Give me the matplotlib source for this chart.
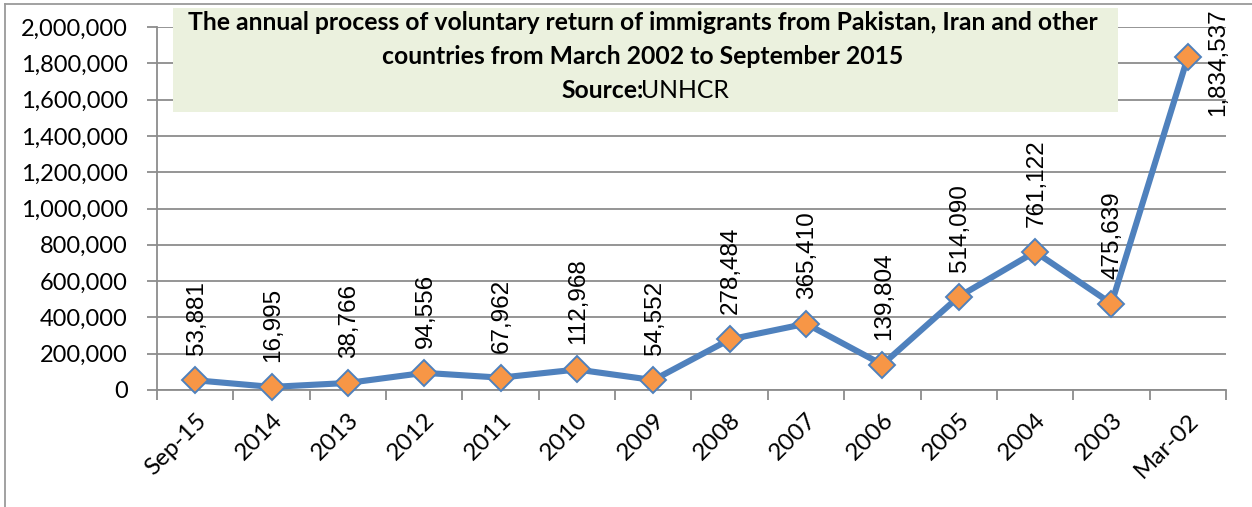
import matplotlib
matplotlib.use("Agg")
import matplotlib.pyplot as plt
from matplotlib.lines import Line2D
from matplotlib.patches import Rectangle
from matplotlib.ticker import FuncFormatter, MultipleLocator

# data (UNHCR voluntary return)
periods = ["Sep-15", "2014", "2013", "2012", "2011", "2010", "2009",
           "2008", "2007", "2006", "2005", "2004", "2003", "Mar-02"]
returnees = [53881, 16995, 38766, 94556, 67962, 112968, 54552,
             278484, 365410, 139804, 514090, 761122, 475639, 1834537]
y_ticks = list(range(0, 2000001, 200000))

title_lines = ["The annual process of voluntary return of immigrants from Pakistan, Iran and other",
               "countries from March 2002 to September 2015"]
source_label = "Source:"
source_name = "UNHCR"

W, H = 1252, 507
fig = plt.figure(figsize=(W / 100, H / 100), dpi=100)
ax = fig.add_axes([157 / W, 1 - 390 / H, (1226 - 157) / W, (390 - 27) / H])

line_blue = "#4F81BD"
grid_grey = "#8C8C8C"
x = list(range(len(periods)))

ax.plot(x, returnees, color=line_blue, lw=4.4, marker="D", ms=13,
        mfc="#F79646", mec=line_blue, mew=1.4, zorder=3, clip_on=False)

ax.set_xlim(-0.5, len(periods) - 0.5)
ax.set_ylim(0, 2000000)
ax.set_yticks(y_ticks)
ax.yaxis.set_major_formatter(FuncFormatter(lambda v, p: f"{int(v):,}"))
ax.set_xticks(x)
ax.set_xticklabels(periods, rotation=45, ha="right", va="top", rotation_mode="anchor")
ax.xaxis.set_minor_locator(MultipleLocator(1, offset=0.5))
ax.tick_params(axis="x", which="major", length=0, pad=14, labelsize=17.5)
ax.tick_params(axis="x", which="minor", length=7, width=1.3, color=grid_grey, direction="out")
ax.tick_params(axis="y", length=7, width=1.3, color=grid_grey, pad=14, labelsize=17)
for lab in ax.get_xticklabels() + ax.get_yticklabels():
    lab.set_fontfamily("Lato")

ax.grid(axis="y", color=grid_grey, lw=1.3, zorder=0)
ax.set_axisbelow(True)
for s in ["top", "right"]:
    ax.spines[s].set_visible(False)
for s in ["left", "bottom"]:
    ax.spines[s].set_color(grid_grey)
    ax.spines[s].set_linewidth(1.3)

# value labels, rotated like the excel data labels
for i, v in enumerate(returnees):
    if i == len(returnees) - 1:
        ax.annotate(f"{v:,}", (i, v), xytext=(22, -4), textcoords="offset points",
                    rotation=90, ha="center", va="center", fontsize=17.5,
                    family="Liberation Sans", annotation_clip=False)
    else:
        ax.annotate(f"{v:,}", (i, v), xytext=(1, 18), textcoords="offset points",
                    rotation=90, ha="center", va="bottom", fontsize=17.5,
                    family="Liberation Sans")

# title box
fig.patches.append(Rectangle((173 / W, 1 - 112 / H), (1118 - 173) / W, (112 - 8) / H,
                             transform=fig.transFigure, facecolor="#EBF1DE",
                             edgecolor="none", zorder=5))
cx = 643 / W
fig.text(cx, 1 - 23 / H, title_lines[0], ha="center", va="center", fontsize=17.8,
         fontweight="bold", family="Lato", zorder=6)
fig.text(cx, 1 - 57 / H, title_lines[1], ha="center", va="center", fontsize=17.8,
         fontweight="bold", family="Lato", zorder=6)
fig.text(644 / W, 1 - 90 / H, source_label, ha="right", va="center", fontsize=17.8,
         fontweight="bold", family="Lato", zorder=6)
fig.text(641 / W, 1 - 90 / H, source_name, ha="left", va="center", fontsize=17.8,
         family="Lato", zorder=6)

# chart area border (top and left edges only are visible)
fig.lines.append(Line2D([5 / W, 5 / W], [0, 1 - 4 / H], transform=fig.transFigure,
                        color="#9A9A9A", lw=1.3))
fig.lines.append(Line2D([5 / W, 1], [1 - 4 / H, 1 - 4 / H], transform=fig.transFigure,
                        color="#9A9A9A", lw=1.3))

fig.savefig("out.png", dpi=100)
